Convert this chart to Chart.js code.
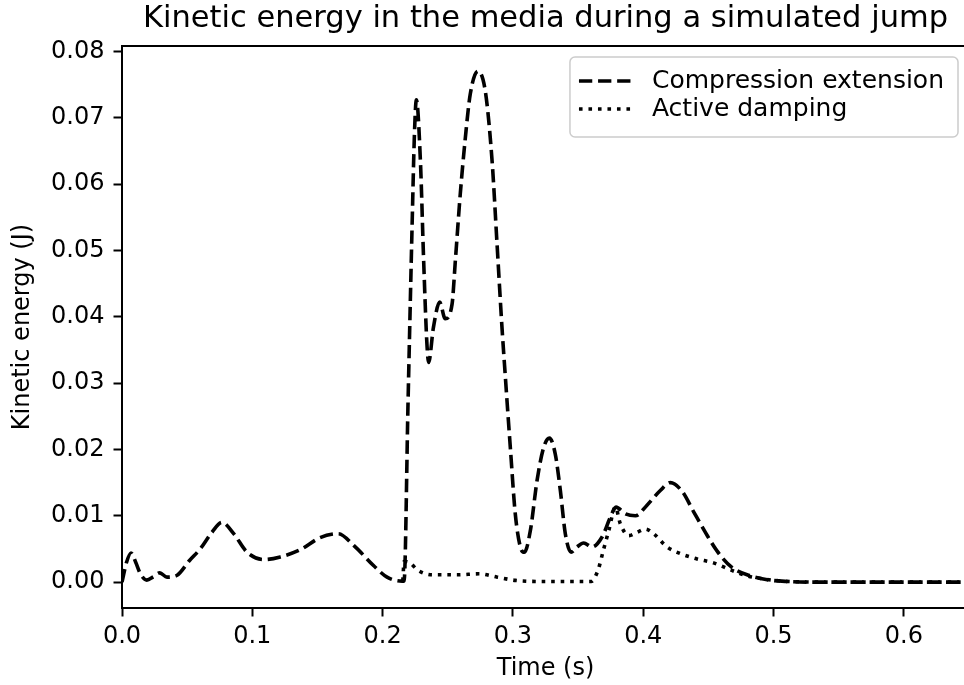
<!DOCTYPE html>
<html>
<head>
<meta charset="utf-8">
<script src="https://cdn.jsdelivr.net/npm/chart.js@4/dist/chart.umd.min.js"></script>
<style>
  html, body { margin: 0; padding: 0; background: #fff; overflow: hidden; }
  canvas { display: block; }
</style>
</head>
<body>
<canvas id="ke-chart" width="970" height="685"></canvas>
<script>
"use strict";

/* --- DATA --- */

const ce_time = [
  0, 0.0035, 0.0069, 0.0105, 0.014, 0.019, 0.024, 0.029, 0.0345, 0.042,
  0.052, 0.060, 0.069, 0.0767, 0.0857, 0.096, 0.1087, 0.1215, 0.137, 0.152,
  0.166, 0.178, 0.193, 0.2034, 0.215, 0.2165, 0.2195, 0.2226, 0.2245, 0.2259,
  0.229, 0.2315, 0.234, 0.2353, 0.239, 0.2438, 0.248, 0.2533, 0.2558, 0.2596,
  0.2635, 0.2673, 0.2732, 0.2788, 0.284, 0.2878, 0.2916, 0.2942, 0.298, 0.3018,
  0.3057, 0.3088, 0.3134, 0.3185, 0.3236, 0.328, 0.3325, 0.3364, 0.3402, 0.3446,
  0.3492, 0.3543, 0.3607, 0.3684, 0.3748, 0.3791, 0.3863, 0.394, 0.4029, 0.4131,
  0.4208, 0.4298, 0.4387, 0.4477, 0.4566, 0.4676, 0.4814, 0.4952, 0.5105, 0.53,
  0.58, 0.65
];
const ce_energy = [
  0, 0.003, 0.0044, 0.003, 0.0013, 0.0003, 0.0008, 0.0014, 0.00075, 0.001,
  0.0033, 0.005, 0.0075, 0.009, 0.0073, 0.0045, 0.0034, 0.0038, 0.0049, 0.0067,
  0.0073, 0.0055, 0.0025, 0.00075, 0.00015, 0.0002, 0.027, 0.0535, 0.068, 0.0727,
  0.0635, 0.0484, 0.0359, 0.0331, 0.0384, 0.0422, 0.0397, 0.0419, 0.0484, 0.0585,
  0.067, 0.0736, 0.077, 0.074, 0.0635, 0.051, 0.0384, 0.0309, 0.0203, 0.0103,
  0.0053, 0.0045, 0.0078, 0.0153, 0.0203, 0.0217, 0.0193, 0.0138, 0.0073, 0.0045,
  0.0053, 0.0059, 0.0053, 0.0068, 0.0098, 0.0113, 0.0103, 0.01, 0.0116, 0.0138,
  0.015, 0.0137, 0.0106, 0.0075, 0.0047, 0.0023, 0.001, 0.00036, 0.0001, 0,
  0, 0
];

const ad_time = [
  0.2155, 0.2165, 0.221, 0.227, 0.238, 0.2575, 0.274, 0.288, 0.302, 0.324,
  0.36, 0.3653, 0.3694, 0.3736, 0.3786, 0.3824, 0.3888, 0.3952, 0.4016, 0.408,
  0.4183, 0.4285, 0.4413, 0.454, 0.4676, 0.4786, 0.4914, 0.5035, 0.52, 0.55,
  0.6, 0.65
];
const ad_energy = [
  0.0002, 0.0031, 0.0029, 0.0018, 0.0011, 0.0011, 0.00126, 0.00075, 0.00026, 0.0001,
  0.0001, 0.0018, 0.0048, 0.0078, 0.0113, 0.0088, 0.007, 0.0075, 0.008, 0.0073,
  0.0053, 0.0043, 0.0035, 0.0029, 0.0018, 0.001, 0.0005, 0.0002, 0.00005, 0,
  0, 0
];

const x_ticks = [0, 0.1, 0.2, 0.3, 0.4, 0.5, 0.6];
const y_ticks = [0, 0.01, 0.02, 0.03, 0.04, 0.05, 0.06, 0.07, 0.08];

/* --- STYLE --- */

const FONT = "'DejaVu Sans', sans-serif";
const LW = 3.6;

function to_points(xs, ys) {
  return xs.map((x, i) => ({ x: x, y: ys[i] }));
}

/* top + right spines, the library only draws left and bottom */
const frame_plugin = {
  id: 'frame',
  afterDatasetsDraw(chart) {
    const { ctx, chartArea: a } = chart;
    ctx.save();
    ctx.strokeStyle = '#000';
    ctx.lineWidth = 2;
    ctx.beginPath();
    ctx.moveTo(a.left - 1, a.top);
    ctx.lineTo(a.right, a.top);
    ctx.lineTo(a.right, a.bottom);
    ctx.stroke();
    ctx.restore();
  }
};

/* title centred over the plot area */
const axes_title_plugin = {
  id: 'axesTitle',
  afterDraw(chart, args, opts) {
    const { ctx, chartArea: a } = chart;
    ctx.save();
    ctx.font = opts.size + 'px ' + FONT;
    ctx.fillStyle = '#000';
    ctx.textAlign = 'center';
    ctx.textBaseline = 'alphabetic';
    ctx.fillText(opts.text, (a.left + a.right) / 2, a.top - opts.pad);
    ctx.restore();
  }
};

/* boxed legend in the upper right corner of the plot area */
const box_legend_plugin = {
  id: 'boxLegend',
  afterDraw(chart, args, opts) {
    const { ctx, chartArea: a } = chart;
    ctx.save();
    ctx.font = opts.size + 'px ' + FONT;
    const text_w = Math.max(...chart.data.datasets.map(d => ctx.measureText(d.label).width));
    const w = opts.padLeft + opts.handle + opts.gap + text_w + opts.padRight;
    const x0 = a.right - opts.inset - w;
    const y0 = a.top + opts.inset;

    ctx.beginPath();
    ctx.roundRect(x0, y0, w, opts.height, 5);
    ctx.fillStyle = 'rgba(255,255,255,0.8)';
    ctx.fill();
    ctx.strokeStyle = '#cccccc';
    ctx.lineWidth = 1.5;
    ctx.stroke();

    chart.data.datasets.forEach((ds, i) => {
      const cy = y0 + opts.rows[i];
      const lx = x0 + opts.padLeft;
      ctx.beginPath();
      ctx.setLineDash(ds.borderDash);
      ctx.lineWidth = ds.borderWidth;
      ctx.strokeStyle = ds.borderColor;
      ctx.moveTo(lx, cy);
      ctx.lineTo(lx + opts.handle, cy);
      ctx.stroke();
      ctx.setLineDash([]);
      ctx.fillStyle = '#000';
      ctx.textAlign = 'left';
      ctx.textBaseline = 'middle';
      ctx.fillText(ds.label, lx + opts.handle + opts.gap, cy);
    });
    ctx.restore();
  }
};

/* --- CHART --- */

const ke_canvas = document.getElementById('ke-chart');

const ke_chart = new Chart(ke_canvas, {
  type: 'line',
  data: {
    datasets: [{
      label: 'Compression extension',
      data: to_points(ce_time, ce_energy),
      borderColor: '#000',
      borderWidth: LW,
      borderDash: [13.3, 5.8],
      borderJoinStyle: 'round',
      cubicInterpolationMode: 'monotone',
      pointRadius: 0,
      fill: false
    }, {
      label: 'Active damping',
      data: to_points(ad_time, ad_energy),
      borderColor: '#000',
      borderWidth: LW,
      borderDash: [3.6, 5.9],
      borderJoinStyle: 'round',
      cubicInterpolationMode: 'monotone',
      pointRadius: 0,
      fill: false
    }]
  },
  options: {
    responsive: false,
    animation: false,
    devicePixelRatio: 1,
    layout: {
      padding: { top: 46, right: 1, bottom: 0, left: 0 }
    },
    plugins: {
      legend: { display: false },
      tooltip: { enabled: false },
      title: { display: false },
      axesTitle: {
        text: 'Kinetic energy in the media during a simulated jump',
        size: 30.5,
        pad: 19
      },
      boxLegend: {
        size: 25,
        inset: 11,
        height: 80,
        rows: [24, 52],
        padLeft: 9,
        padRight: 14,
        handle: 52,
        gap: 21
      }
    },
    scales: {
      x: {
        type: 'linear',
        min: 0,
        max: 0.65,
        afterBuildTicks: scale => { scale.ticks = x_ticks.map(v => ({ value: v })); },
        afterFit: scale => { scale.height = 77; },
        grid: {
          display: true,
          drawOnChartArea: false,
          drawTicks: true,
          tickLength: 8.5,
          tickWidth: 2,
          tickColor: '#000'
        },
        border: { display: true, color: '#000', width: 2 },
        ticks: {
          color: '#000',
          font: { family: FONT, size: 24 },
          padding: 6,
          maxRotation: 0,
          callback: v => v.toFixed(1)
        },
        title: {
          display: true,
          text: 'Time (s)',
          color: '#000',
          font: { family: FONT, size: 24 },
          padding: { top: 0, bottom: 2 }
        }
      },
      y: {
        type: 'linear',
        min: -0.0039,
        max: 0.0808,
        afterBuildTicks: scale => { scale.ticks = y_ticks.map(v => ({ value: v })); },
        afterFit: scale => { scale.width = 122; },
        grid: {
          display: true,
          drawOnChartArea: false,
          drawTicks: true,
          tickLength: 8.5,
          tickWidth: 2,
          tickColor: '#000'
        },
        border: { display: true, color: '#000', width: 2 },
        ticks: {
          color: '#000',
          font: { family: FONT, size: 24 },
          padding: 9,
          callback: v => v.toFixed(2)
        },
        title: {
          display: true,
          text: 'Kinetic energy (J)',
          color: '#000',
          font: { family: FONT, size: 24 },
          padding: { top: 8, bottom: 0 }
        }
      }
    }
  },
  plugins: [frame_plugin, axes_title_plugin, box_legend_plugin]
});
</script>
</body>
</html>
